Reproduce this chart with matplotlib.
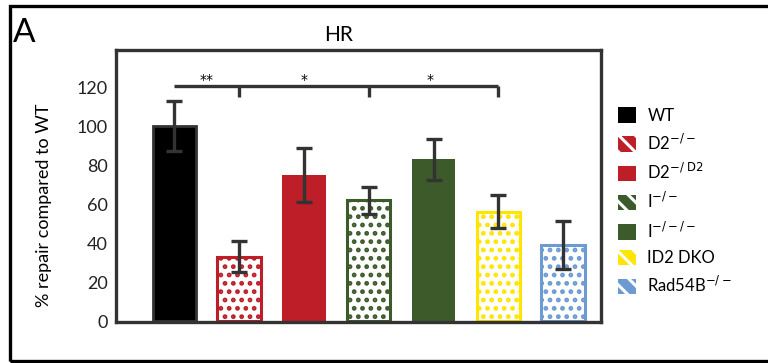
import matplotlib
matplotlib.use("Agg")
import matplotlib.pyplot as plt
from matplotlib.patches import Patch, Rectangle

plt.rcParams["font.family"] = ["Lato", "DejaVu Sans"]
plt.rcParams["hatch.linewidth"] = 2.2

# data
groups = ["WT", "D2$^{-/-}$", "D2$^{-/\\ \\mathrm{D2}}$", "I$^{-/-}$", "I$^{-/-/-}$",
          "ID2 DKO", "Rad54B$^{-/-}$"]
values = [100, 33, 75, 62, 83, 56, 39]
errors = [13, 8, 14, 7, 10.5, 8.5, 12.5]
colors = ["#000000", "#bd1e28", "#bd1e28", "#3c5a2a", "#3c5a2a", "#ffe500", "#6c9bd2"]
hatched = [False, True, False, True, False, True, True]
yticks = [0, 20, 40, 60, 80, 100, 120]

# significance bracket: from WT to the groups it is compared with
bracket_from = 0
bracket_to = [1, 3, 5]
bracket_y = 120.5
bracket_drop = 5.5
stars = [(0.5, "**"), (2.0, "*"), (3.95, "*")]

fig = plt.figure(figsize=(7.68, 3.63), dpi=100)
ax = fig.add_axes([0.151, 0.113, 0.632, 0.749])

dark = "#333333"
x = list(range(len(values)))
for i in x:
    if hatched[i]:
        ax.bar(i, values[i], width=0.67, color="white", edgecolor=colors[i],
               linewidth=2.2, hatch="..", zorder=2)
    else:
        ax.bar(i, values[i], width=0.67, color=colors[i],
               edgecolor=dark if i == 0 else colors[i], linewidth=2 if i == 0 else 0,
               zorder=2)
ax.errorbar(x, values, yerr=errors, fmt="none", ecolor=dark, elinewidth=2.4,
            capsize=6, capthick=2.4, zorder=3)

# bracket
ax.plot([bracket_from, max(bracket_to)], [bracket_y, bracket_y], color=dark,
        lw=2.4, solid_capstyle="butt", zorder=3)
for t in bracket_to:
    ax.plot([t, t], [bracket_y, bracket_y - bracket_drop], color=dark, lw=2.4,
            solid_capstyle="butt", zorder=3)
for sx, s in stars:
    ax.text(sx, bracket_y - 0.5, s, ha="center", va="bottom", fontsize=10,
            color="black", family="DejaVu Sans")

ax.set_xlim(-0.9, 6.59)
ax.set_ylim(-0.5, 139)
ax.set_xticks([])
ax.set_yticks(yticks)
ax.tick_params(axis="y", length=0, labelsize=13, labelcolor="#222222", pad=6)
for sp in ax.spines.values():
    sp.set_color(dark)
    sp.set_linewidth(2.4)
ax.set_ylabel("% repair compared to WT", fontsize=13, color="black")
ax.yaxis.set_label_coords(-0.132, 0.43)

# legend
handles = []
for i in x:
    if hatched[i]:
        handles.append(Patch(facecolor=colors[i], edgecolor="white", linewidth=0,
                             hatch="\\\\"))
    else:
        handles.append(Patch(facecolor=colors[i], edgecolor=colors[i], linewidth=0))
fig.legend(handles, groups, loc="upper left", bbox_to_anchor=(0.805, 0.705),
           frameon=False, fontsize=12, handlelength=1.05, handleheight=1.05,
           handletextpad=0.7, labelspacing=0.55, borderpad=0, borderaxespad=0)

fig.text(0.441, 0.904, "HR", ha="center", va="center", fontsize=15)
fig.text(0.032, 0.91, "A", ha="center", va="center", fontsize=24)

# outer panel frame
fig.patches.append(Rectangle((0.013, 0.005), 1.1, 0.978, transform=fig.transFigure,
                             fill=False, edgecolor="black", linewidth=2.4,
                             clip_on=False))

fig.savefig("out.png", dpi=100)
